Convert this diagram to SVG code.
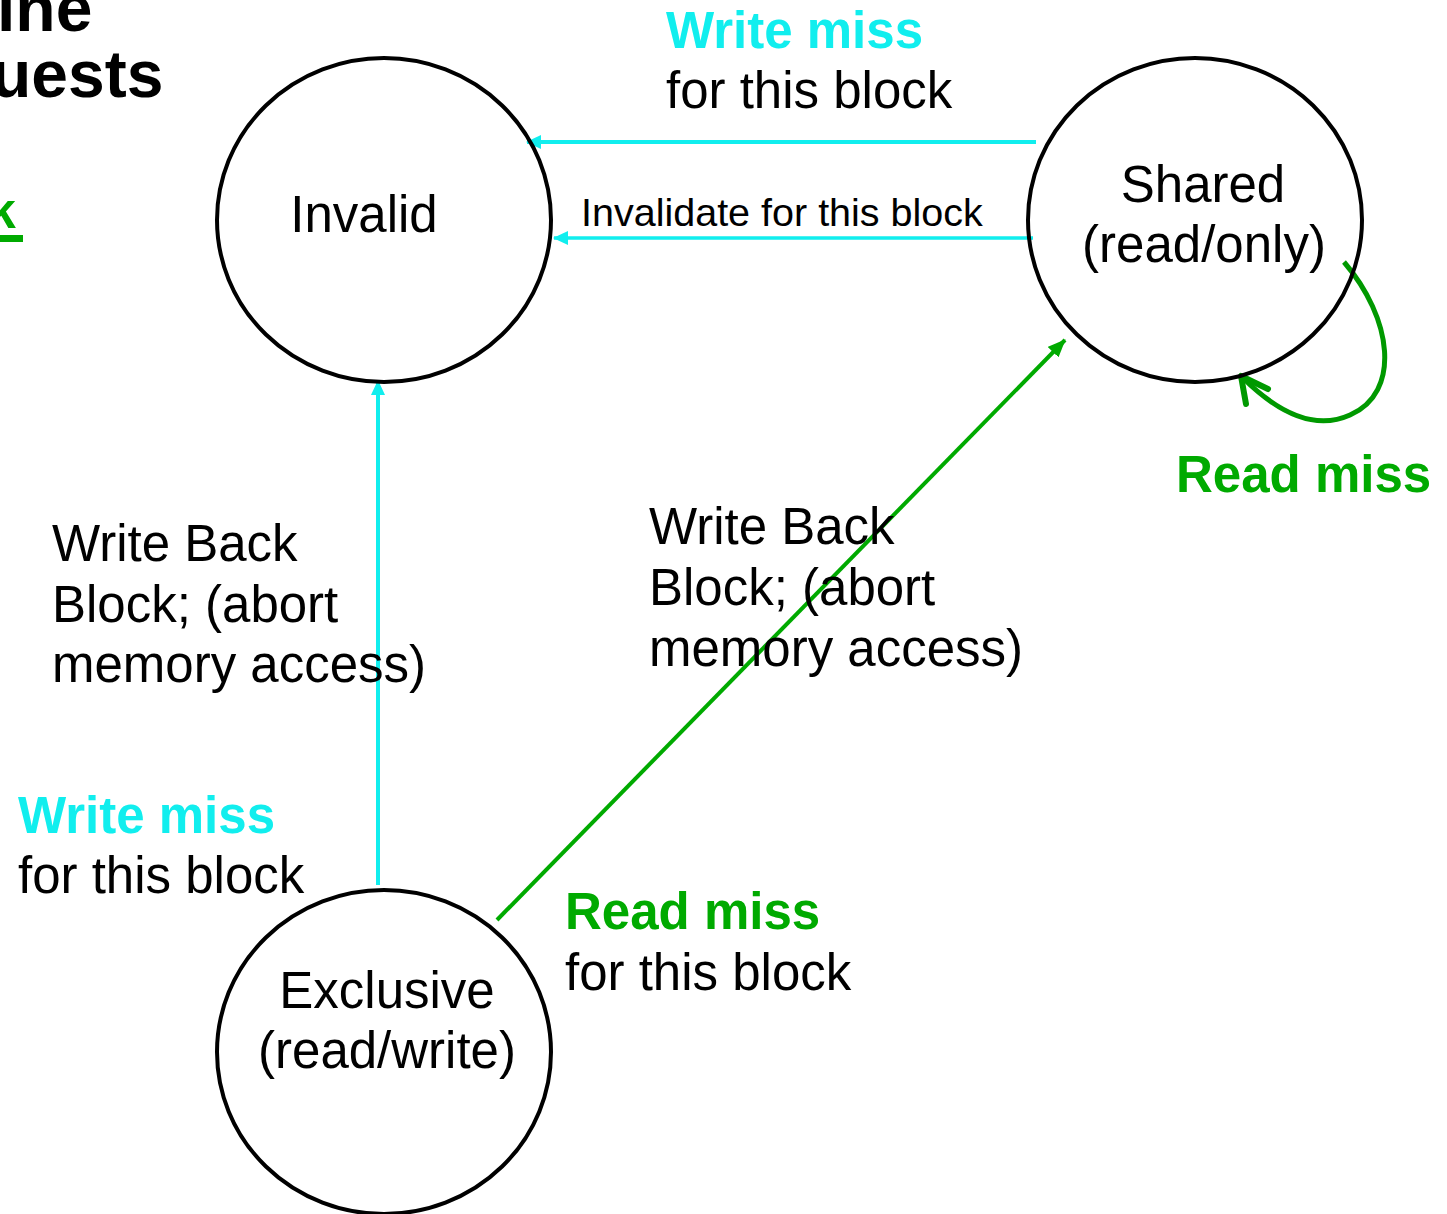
<svg xmlns="http://www.w3.org/2000/svg" width="1447" height="1214" viewBox="0 0 1447 1214">
  <style>
    text { font-family: "Liberation Sans", Arial, sans-serif; fill: #000; }
    .state { fill: none; stroke: #000; stroke-width: 4; }
    .lbl { font-size: 51px; }
    .b { font-weight: bold; }
    .cy { fill: #11EEEE; }
    .gr { fill: #00AA00; }
    .cyl { stroke: #11EEEE; fill: none; }
    .grl { stroke: #00AA00; fill: none; }
  </style>
  <defs>
    <marker id="cyanHead" viewBox="0 0 15 14" refX="14" refY="7" markerWidth="15" markerHeight="14" markerUnits="userSpaceOnUse" orient="auto">
      <path d="M0,0 L15,7 L0,14 Z" fill="#11EEEE"/>
    </marker>
    <marker id="greenHead" viewBox="0 0 18 15" refX="17" refY="7.5" markerWidth="18" markerHeight="15" markerUnits="userSpaceOnUse" orient="auto">
      <path d="M0,0 L18,7.5 L0,15 Z" fill="#00AA00"/>
    </marker>
  </defs>

  <rect width="1447" height="1214" fill="#fff"/>

  <!-- title fragments at the left edge -->
  <g id="title">
    <text x="-3" y="31" font-size="66" class="b">ine</text>
    <text x="-9" y="97" font-size="66" class="b">uests</text>
    <text x="-12" y="228" font-size="50" class="b gr">k</text>
    <rect x="0" y="235" width="23" height="7" fill="#00AA00"/>
  </g>

  <!-- transitions -->
  <g id="connectors">
    <line x1="1036" y1="142" x2="527" y2="142" class="cyl" stroke-width="4" marker-end="url(#cyanHead)"/>
    <line x1="1033" y1="238" x2="554" y2="238" class="cyl" stroke-width="3.5" marker-end="url(#cyanHead)"/>
    <line x1="378" y1="885" x2="378" y2="381" class="cyl" stroke-width="4" marker-end="url(#cyanHead)"/>
    <line x1="497" y1="920" x2="1065" y2="340" class="grl" stroke-width="4" marker-end="url(#greenHead)"/>
    <path d="M1344,262 C1392,318 1402,392 1350,415 C1310,433 1270,405 1242,377" stroke="#009900" stroke-width="5" fill="none"/>
    <path d="M1268,389 L1241,376 L1246,404" stroke="#009900" stroke-width="6" fill="none" stroke-linecap="round" stroke-linejoin="round"/>
  </g>

  <!-- states -->
  <g id="invalid">
    <ellipse cx="384" cy="220" rx="167" ry="162" class="state"/>
    <text x="364" y="232" class="lbl" text-anchor="middle">Invalid</text>
  </g>
  <g id="shared">
    <ellipse cx="1195" cy="220" rx="167" ry="162" class="state"/>
    <text x="1203" y="202" class="lbl" text-anchor="middle">Shared</text>
    <text x="1204" y="262" class="lbl" text-anchor="middle">(read/only)</text>
  </g>
  <g id="exclusive">
    <ellipse cx="384" cy="1052" rx="167" ry="162" class="state"/>
    <text x="387" y="1008" class="lbl" text-anchor="middle">Exclusive</text>
    <text x="387" y="1068" class="lbl" text-anchor="middle">(read/write)</text>
  </g>

  <!-- transition labels -->
  <g id="labels">
    <text x="666" y="48" class="lbl b cy">Write miss</text>
    <text x="666" y="108" class="lbl">for this block</text>
    <text x="581" y="226" font-size="39.5">Invalidate for this block</text>
    <text x="1176" y="492" class="lbl b gr">Read miss</text>
    <text x="52" y="561" class="lbl">Write Back</text>
    <text x="52" y="622" class="lbl">Block; (abort</text>
    <text x="52" y="682" class="lbl">memory access)</text>
    <text x="649" y="544" class="lbl">Write Back</text>
    <text x="649" y="605" class="lbl">Block; (abort</text>
    <text x="649" y="666" class="lbl">memory access)</text>
    <text x="18" y="833" class="lbl b cy">Write miss</text>
    <text x="18" y="893" class="lbl">for this block</text>
    <text x="565" y="929" class="lbl b gr">Read miss</text>
    <text x="565" y="990" class="lbl">for this block</text>
  </g>
</svg>
